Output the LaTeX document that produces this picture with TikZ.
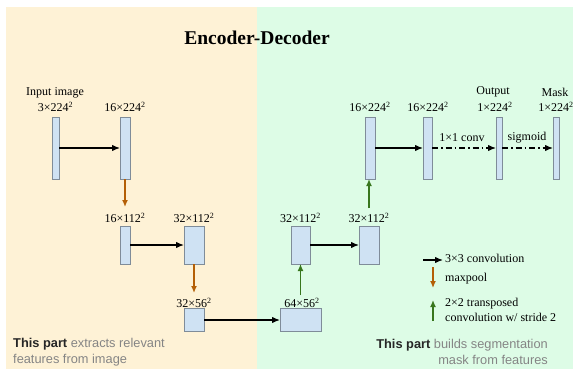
\documentclass[tikz,border=0pt]{standalone}
\usepackage{fontspec}
\setmainfont{Liberation Serif}
\newfontfamily\sansf{Liberation Sans}
\usetikzlibrary{arrows.meta}
\definecolor{beige}{HTML}{FEF2D6}
\definecolor{mint}{HTML}{DDFCE6}
\definecolor{boxfill}{HTML}{CFE2F3}
\definecolor{boxline}{HTML}{7F8C99}
\definecolor{poolc}{HTML}{B45F06}
\definecolor{upc}{HTML}{38761D}
\definecolor{greytext}{HTML}{858585}
\begin{document}
\begin{tikzpicture}[x=1pt,y=-1pt,
  layer/.style={draw=boxline,fill=boxfill,line width=0.9pt,inner sep=0pt,outer sep=0pt},
  lab/.style={font=\fontsize{12}{14}\selectfont,inner sep=0pt},
  conv/.style={line width=1.3pt,-{Latex[length=8pt,width=6.5pt]}},
  convdd/.style={conv,dash pattern=on 6pt off 3pt on 1.5pt off 3pt},
  pool/.style={draw=poolc,line width=1.3pt,-{Latex[length=7pt,width=6pt]}},
  upconv/.style={draw=upc,line width=1.3pt,-{Latex[length=7pt,width=6pt]}},
  note/.style={font=\sansf\fontsize{12.8}{16}\selectfont,inner sep=0pt,text=greytext}
]
\useasboundingbox (0,0) rectangle (578,372);
\fill[white] (0,0) rectangle (578,372);
\fill[beige] (6,7) rectangle (257,369);
\fill[mint] (257,7) rectangle (573,369);

\node[font=\bfseries\fontsize{19.5}{22}\selectfont] (title) at (257,38) {Encoder-Decoder};

% layers
\node[layer,minimum width=7,minimum height=62] (in) at (55.5,148) {};
\node[layer,minimum width=10,minimum height=62] (e1) at (125,148) {};
\node[layer,minimum width=10,minimum height=38] (e2) at (125,245) {};
\node[layer,minimum width=20,minimum height=38] (e3) at (194,245) {};
\node[layer,minimum width=20,minimum height=23] (e4) at (194,320) {};
\node[layer,minimum width=41,minimum height=23] (bn) at (300.5,320) {};
\node[layer,minimum width=19,minimum height=38] (d1) at (300.5,245) {};
\node[layer,minimum width=20,minimum height=38] (d2) at (369,245) {};
\node[layer,minimum width=10,minimum height=62] (d3) at (370,148) {};
\node[layer,minimum width=9,minimum height=62] (d4) at (427.5,148) {};
\node[layer,minimum width=6,minimum height=62] (out) at (499,148) {};
\node[layer,minimum width=6,minimum height=62] (mask) at (556,148) {};

% labels
\node[lab] (lin1) at (55,93) {Input image};
\node[lab] (lin2) at (55.5,107) {3×224\textsuperscript{2}};
\node[lab] (le1) at (125,107) {16×224\textsuperscript{2}};
\node[lab] (le2) at (125,218) {16×112\textsuperscript{2}};
\node[lab] (le3) at (194,218) {32×112\textsuperscript{2}};
\node[lab] (le4) at (194,303) {32×56\textsuperscript{2}};
\node[lab] (lbn) at (302,303) {64×56\textsuperscript{2}};
\node[lab] (ld1) at (300.5,218) {32×112\textsuperscript{2}};
\node[lab] (ld2) at (369,218) {32×112\textsuperscript{2}};
\node[lab] (ld3) at (370,107) {16×224\textsuperscript{2}};
\node[lab] (ld4) at (428,107) {16×224\textsuperscript{2}};
\node[lab] (lout1) at (493,92) {Output};
\node[lab] (lout2) at (495,107) {1×224\textsuperscript{2}};
\node[lab] (lmask1) at (555,92) {Mask};
\node[lab] (lmask2) at (556,107) {1×224\textsuperscript{2}};

% connectors
\coordinate (p1) at (125,207);
\coordinate (p2) at (194,293);
\coordinate (u1) at (300.5,295);
\coordinate (u2) at (369,208);
\draw[conv] (in) -- (e1);
\draw[pool] (e1.south) -- (p1);
\draw[conv] (e2) -- (e3);
\draw[pool] (e3.south) -- (p2);
\draw[conv] (e4) -- (bn);
\draw[upconv] (u1) -- (d1.south);
\draw[conv] (d1) -- (d2);
\draw[upconv] (u2) -- (d3.south -| u2);
\draw[conv] (d3) -- (d4);
\draw[convdd] (d4) -- (out);
\draw[convdd] (out) -- (mask);
\node[lab] (c11) at (462,138) {1×1 conv};
\node[lab] (sig) at (527,138) {sigmoid};

% legend
\coordinate (la1) at (423,260); \coordinate (la2) at (443,260);
\coordinate (lb1) at (433,267); \coordinate (lb2) at (433,288);
\coordinate (lc1) at (433,321); \coordinate (lc2) at (433,300);
\draw[conv] (la1) -- (la2);
\draw[pool] (lb1) -- (lb2);
\draw[upconv] (lc1) -- (lc2);
\node[lab,anchor=west] (t1) at (445,258) {3×3 convolution};
\node[lab,anchor=west] (t2) at (445,279) {maxpool};
\node[lab,anchor=west] (t3) at (445,304) {2×2 transposed};
\node[lab,anchor=west] (t4) at (445,317) {convolution w/ stride 2};

% notes
\node[note,anchor=west,align=left] (nl) at (13,352) {\textcolor{black!85}{\bfseries This part} extracts relevant\\features from image};
\node[note,anchor=east,align=right] (nr) at (548,352) {\textcolor{black!85}{\bfseries This part} builds segmentation\\mask from features};
\end{tikzpicture}
\end{document}
